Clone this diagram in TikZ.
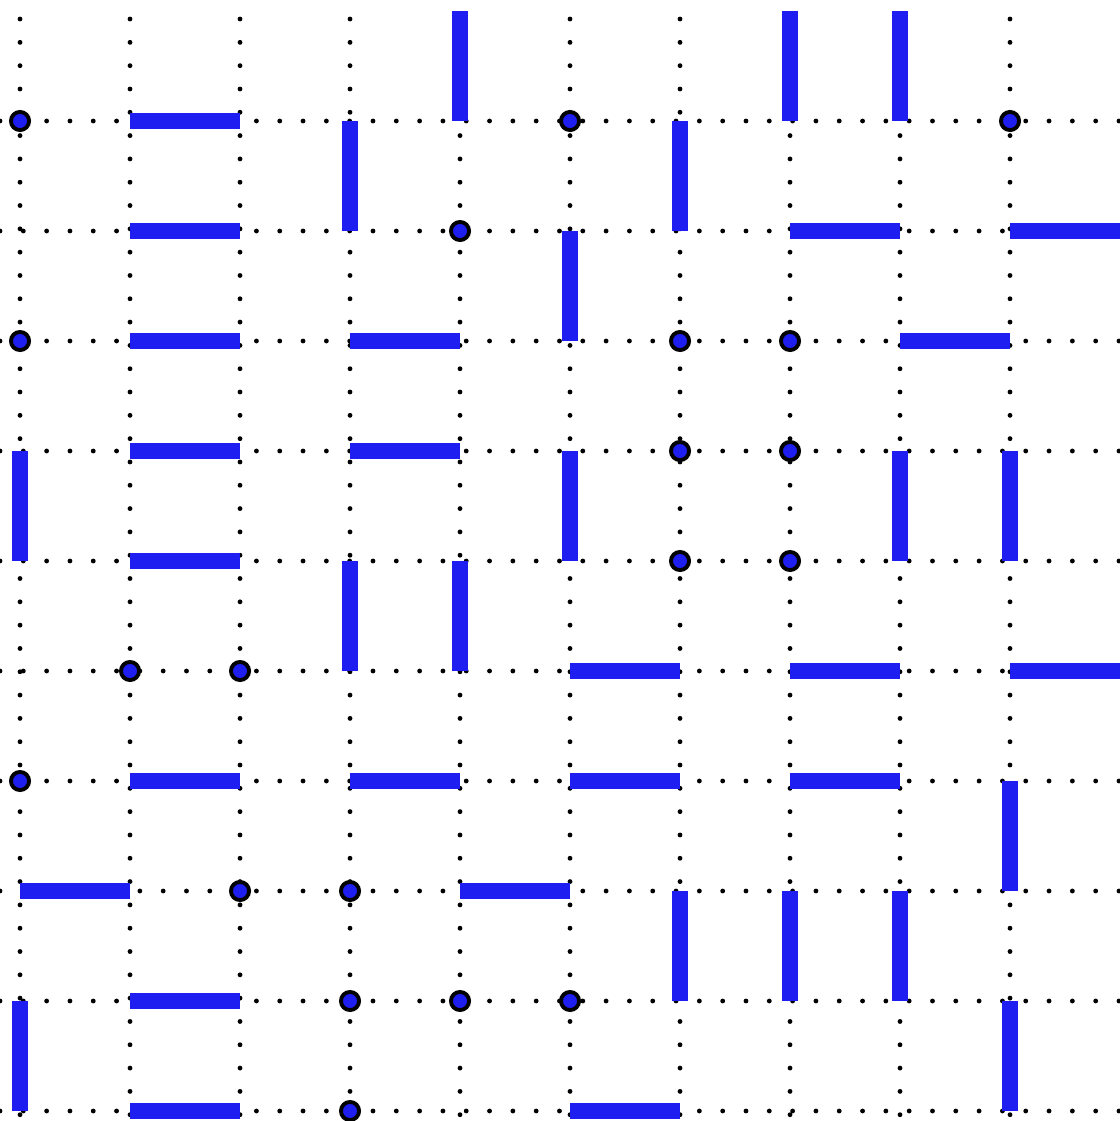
\documentclass[tikz,border=0pt]{standalone}
\usepackage{xcolor}
\usepackage{tikz}
\definecolor{dimerblue}{RGB}{30,30,240}

\begin{document}
\begin{tikzpicture}[
    x=1cm, y=-1cm,
    lattice/.style={line width=1.25pt, line cap=round, dash pattern=on 0pt off 6.03pt},
    dimer/.style={line width=0.15cm, dimerblue},
    mono/.style={draw=black, fill=dimerblue, circle, line width=1pt, inner sep=0pt, minimum size=0.165cm},
]
\useasboundingbox (-0.182,-0.1) rectangle (9.991,10.091);

% Lattice sites
\foreach \i in {0,...,10}
  \foreach \j in {0,...,10}
    \coordinate (p-\i-\j) at (\i,\j);

% Dotted lattice lines
\foreach \i in {0,...,9}
  \draw[lattice] (\i,0.073) -- (\i,10.1);
\foreach \j in {1,...,10}
  \draw[lattice] (-0.182,\j) -- (10,\j);

% Horizontal dimers
\foreach \s/\t in {1-1/2-1, 1-2/2-2, 7-2/8-2, 9-2/10-2, 1-3/2-3, 3-3/4-3, 8-3/9-3,
    1-4/2-4, 3-4/4-4, 1-5/2-5, 5-6/6-6, 7-6/8-6, 9-6/10-6, 1-7/2-7, 3-7/4-7,
    5-7/6-7, 7-7/8-7, 0-8/1-8, 4-8/5-8, 1-9/2-9, 1-10/2-10, 5-10/6-10}
  \draw[dimer] (p-\s) -- (p-\t);

% Vertical dimers
\foreach \s/\t in {4-0/4-1, 7-0/7-1, 8-0/8-1, 3-1/3-2, 6-1/6-2, 5-2/5-3, 0-4/0-5,
    5-4/5-5, 8-4/8-5, 9-4/9-5, 3-5/3-6, 4-5/4-6, 9-7/9-8, 6-8/6-9, 7-8/7-9,
    8-8/8-9, 0-9/0-10, 9-9/9-10}
  \draw[dimer] (p-\s) -- (p-\t);

% Monomers
\foreach \p in {0-1, 5-1, 9-1, 4-2, 0-3, 6-3, 7-3, 6-4, 7-4, 6-5, 7-5, 1-6, 2-6,
    0-7, 2-8, 3-8, 3-9, 4-9, 5-9, 3-10}
  \node[mono] (m-\p) at (p-\p) {};
\end{tikzpicture}
\end{document}
